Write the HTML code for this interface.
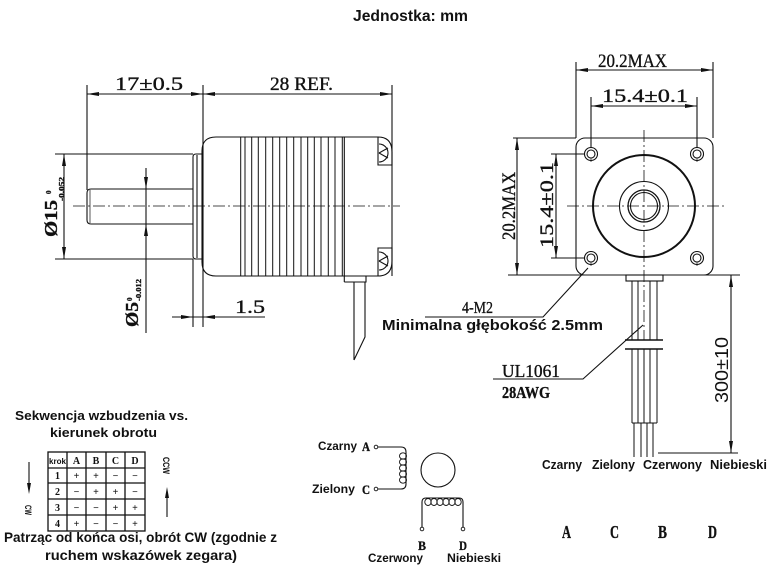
<!DOCTYPE html>
<html><head><meta charset="utf-8"><style>
html,body{margin:0;padding:0;background:#fff;}
svg{display:block;}
.s{font-family:"Liberation Sans",sans-serif;font-weight:bold;fill:#111;}
.d{font-family:"Liberation Serif",serif;fill:#111;stroke:#111;stroke-width:0.35;}
</style></head><body>
<svg width="769" height="568" viewBox="0 0 769 568" xmlns="http://www.w3.org/2000/svg">
<rect width="769" height="568" fill="#fff"/>
<text class="s" x="353" y="21" font-size="15.5" textLength="115" lengthAdjust="spacingAndGlyphs">Jednostka: mm</text>

<g stroke="#111" stroke-width="1.1" fill="none">
<!-- side view dims -->
<line x1="87" y1="85" x2="87" y2="190"/>
<line x1="203" y1="85" x2="203" y2="327"/>
<line x1="392" y1="85" x2="392" y2="276"/>
<line x1="87" y1="94" x2="392" y2="94"/>
<line x1="55" y1="154" x2="193" y2="154"/>
<line x1="55" y1="259" x2="193" y2="259"/>
<line x1="64" y1="154" x2="64" y2="259"/>
<line x1="146" y1="168" x2="146" y2="333"/>
<line x1="193" y1="259" x2="193" y2="327"/>
<line x1="172" y1="317" x2="265" y2="317"/>
<!-- body -->
<path d="M216 137 H378 M216 276 H378 M216 137 Q202 137 202 151 V262 Q202 276 216 276"/>
<path d="M378 137 Q392 137 392 152 V165 H378 Z"/>
<path d="M379 144 A9 9 0 0 1 379 162 M379 153 L388 148 M379 153 L388 158"/>
<path d="M378 248 H392 V261 Q392 276 378 276 Z"/>
<path d="M379 252 A9 9 0 0 1 379 270 M379 261 L388 256 M379 261 L388 266"/>
<g stroke-width="1">
<line x1="240.7" y1="137" x2="240.7" y2="276"/><line x1="245" y1="137" x2="245" y2="276"/>
<line x1="251.7" y1="137" x2="251.7" y2="276"/><line x1="258.3" y1="137" x2="258.3" y2="276"/>
<line x1="265.7" y1="137" x2="265.7" y2="276"/><line x1="272.7" y1="137" x2="272.7" y2="276"/>
<line x1="279.7" y1="137" x2="279.7" y2="276"/><line x1="286.7" y1="137" x2="286.7" y2="276"/>
<line x1="293.7" y1="137" x2="293.7" y2="276"/><line x1="301" y1="137" x2="301" y2="276"/>
<line x1="307.7" y1="137" x2="307.7" y2="276"/><line x1="314.3" y1="137" x2="314.3" y2="276"/>
<line x1="321" y1="137" x2="321" y2="276"/><line x1="328.3" y1="137" x2="328.3" y2="276"/>
<line x1="335" y1="137" x2="335" y2="276"/><line x1="342.3" y1="137" x2="342.3" y2="276"/>
</g>
<line x1="344.3" y1="137" x2="344.3" y2="282"/>
<path d="M344.3 282 H366 V276"/>
<path d="M354 282 V360 M365 282 V337 L354 360"/>
<!-- flange + shaft -->
<path d="M202 154 H196 Q193 154 193 157 V256 Q193 259 196 259 H202"/>
<line x1="197" y1="155" x2="197" y2="258"/>
<path d="M193 189 H91 Q87 189 87 193 V220 Q87 224 91 224 H193"/>
<line x1="90" y1="190" x2="90" y2="223" stroke-width="0.7"/>

<!-- front view -->
<rect x="576" y="138" width="137" height="137" rx="9"/>
<line x1="576" y1="62" x2="576" y2="138"/>
<line x1="713" y1="62" x2="713" y2="138"/>
<line x1="576" y1="70" x2="713" y2="70"/>
<line x1="591" y1="97" x2="591" y2="148"/>
<line x1="697" y1="97" x2="697" y2="148"/>
<line x1="591" y1="106" x2="697" y2="106"/>
<circle cx="591" cy="154" r="6.5"/><circle cx="591" cy="154" r="4"/>
<circle cx="697" cy="154" r="6.5"/><circle cx="697" cy="154" r="4"/>
<circle cx="591" cy="258" r="6.5"/><circle cx="591" cy="258" r="4"/>
<circle cx="697" cy="258" r="6.5"/><circle cx="697" cy="258" r="4"/>
<g stroke-width="0.7"><line x1="591" y1="158" x2="591" y2="162"/><line x1="697" y1="158" x2="697" y2="162"/><line x1="591" y1="262" x2="591" y2="266"/><line x1="697" y1="262" x2="697" y2="266"/></g>
<circle cx="644" cy="206" r="51" stroke-width="2"/>
<circle cx="644" cy="206" r="24.5"/>
<circle cx="644" cy="206" r="16" stroke-width="1.3"/>
<circle cx="644" cy="206" r="13.5"/>
<line x1="513" y1="138" x2="576" y2="138"/>
<line x1="508" y1="275" x2="740" y2="275"/>
<line x1="517" y1="138" x2="517" y2="275"/>
<line x1="551" y1="154" x2="585" y2="154"/>
<line x1="551" y1="258" x2="585" y2="258"/>
<line x1="556" y1="154" x2="556" y2="258"/>
<!-- cable front -->
<rect x="626" y="275" width="37" height="6"/>
<g stroke-width="1">
<path d="M632 281 V340 M638 281 V340 M650 281 V340 M657 281 V340"/>
<path d="M632 349 V423 M638 349 V423 M644 349 V423 M650 349 V423 M657 349 V423"/>
<line x1="632" y1="423" x2="657" y2="423"/>
<path d="M634 423 V457 M641 423 V457 M647 423 V457 M653 423 V457"/>
</g>
<line x1="625" y1="340" x2="663" y2="340" stroke-width="1.4"/>
<line x1="625" y1="349" x2="663" y2="349" stroke-width="1.4"/>
<line x1="731" y1="275" x2="731" y2="453"/>
<line x1="658" y1="453" x2="738" y2="453"/>
<!-- leaders -->
<path d="M588 268 L543 317 H425"/>
<path d="M643 325 L583 379 H493"/>

<!-- table -->
<g stroke-width="1.3">
<rect x="48" y="452" width="97" height="79"/>
<path d="M67 452 V531 M86 452 V531 M106 452 V531 M125 452 V531"/>
<path d="M48 468 H145 M48 483 H145 M48 499 H145 M48 515 H145"/>
</g>
<line x1="29" y1="462" x2="29" y2="485"/>
<line x1="167" y1="495" x2="167" y2="517"/>

<!-- wiring -->
<circle cx="376" cy="447" r="1.8" stroke-width="0.9"/>
<circle cx="376" cy="489" r="1.8" stroke-width="0.9"/>
<path d="M378 447 H401 Q406 447 406 452 V484 Q406 489 401 489 H378"/>
<g stroke-width="0.9">
<ellipse cx="403" cy="456" rx="3.5" ry="3.2"/><ellipse cx="403" cy="462" rx="3.5" ry="3.2"/>
<ellipse cx="403" cy="468" rx="3.5" ry="3.2"/><ellipse cx="403" cy="474" rx="3.5" ry="3.2"/>
<ellipse cx="403" cy="480" rx="3.5" ry="3.2"/>
<ellipse cx="428" cy="502" rx="3.2" ry="3.5"/><ellipse cx="434" cy="502" rx="3.2" ry="3.5"/>
<ellipse cx="440" cy="502" rx="3.2" ry="3.5"/><ellipse cx="446" cy="502" rx="3.2" ry="3.5"/>
<ellipse cx="452" cy="502" rx="3.2" ry="3.5"/><ellipse cx="458" cy="502" rx="3.2" ry="3.5"/>
</g>
<circle cx="438" cy="470" r="17"/>
<path d="M422 527 V502 Q422 498 426 498 H459 Q463 498 463 502 V527"/>
<circle cx="422" cy="529" r="1.8" stroke-width="0.9"/>
<circle cx="463" cy="529" r="1.8" stroke-width="0.9"/>
</g>

<!-- center lines -->
<g stroke="#111" stroke-width="0.8" stroke-dasharray="12 3 2 3" fill="none">
<line x1="73" y1="206" x2="400" y2="206"/>
<line x1="567" y1="206" x2="727" y2="206"/>
<line x1="644" y1="130" x2="644" y2="340"/>
</g>

<!-- arrowheads -->
<g fill="#111">
<polygon points="87,94 99,92 99,96"/><polygon points="203,94 191,92 191,96"/>
<polygon points="203,94 215,92 215,96"/><polygon points="392,94 380,92 380,96"/>
<polygon points="64,154 62,166 66,166"/><polygon points="64,259 62,247 66,247"/>
<polygon points="146,189 144,177 148,177"/><polygon points="146,224 144,236 148,236"/>
<polygon points="193,317 181,315 181,319"/><polygon points="203,317 215,315 215,319"/>
<polygon points="576,70 588,68 588,72"/><polygon points="713,70 701,68 701,72"/>
<polygon points="591,106 603,104 603,108"/><polygon points="697,106 685,104 685,108"/>
<polygon points="517,138 515,150 519,150"/><polygon points="517,275 515,263 519,263"/>
<polygon points="556,154 554,166 558,166"/><polygon points="556,258 554,246 558,246"/>
<polygon points="731,275 729,287 733,287"/><polygon points="731,453 729,441 733,441"/>
<polygon points="29,494 27,483 31,483"/><polygon points="167,487 165,498 169,498"/>
</g>

<!-- dimension texts -->
<text class="d" x="115" y="90" font-size="19" textLength="68" lengthAdjust="spacingAndGlyphs">17±0.5</text>
<text class="d" x="270" y="90" font-size="19" textLength="63" lengthAdjust="spacingAndGlyphs">28 REF.</text>
<text class="d" x="235" y="313" font-size="19" textLength="30" lengthAdjust="spacingAndGlyphs">1.5</text>
<text class="d" x="598" y="67" font-size="19" textLength="69" lengthAdjust="spacingAndGlyphs">20.2MAX</text>
<text class="d" x="602" y="102" font-size="19" textLength="86" lengthAdjust="spacingAndGlyphs">15.4±0.1</text>
<text class="d" x="462" y="313" font-size="17" textLength="31" lengthAdjust="spacingAndGlyphs">4-M2</text>
<text class="d" x="502" y="377" font-size="18" textLength="58" lengthAdjust="spacingAndGlyphs">UL1061</text>
<text class="d" x="502" y="398" font-size="17" font-weight="bold" textLength="48" lengthAdjust="spacingAndGlyphs">28AWG</text>
<text class="s" x="382" y="330" font-size="15" textLength="221" lengthAdjust="spacingAndGlyphs">Minimalna głębokość 2.5mm</text>

<g transform="translate(57,237) rotate(-90)">
<text class="d" x="0" y="0" font-size="18" font-weight="bold" textLength="37" lengthAdjust="spacingAndGlyphs">Ø15</text>
<text class="d" x="43" y="-6" font-size="7" font-weight="bold">0</text>
<text class="d" x="36" y="7" font-size="7" font-weight="bold" textLength="24" lengthAdjust="spacingAndGlyphs">-0.052</text>
</g>
<g transform="translate(138,327) rotate(-90)">
<text class="d" x="0" y="0" font-size="18" font-weight="bold" textLength="25" lengthAdjust="spacingAndGlyphs">Ø5</text>
<text class="d" x="26" y="-6" font-size="7" font-weight="bold">0</text>
<text class="d" x="26" y="3" font-size="7" font-weight="bold" textLength="22" lengthAdjust="spacingAndGlyphs">-0.012</text>
</g>
<text class="d" transform="translate(515,240) rotate(-90)" font-size="19" textLength="68" lengthAdjust="spacingAndGlyphs">20.2MAX</text>
<text class="d" transform="translate(553,248) rotate(-90)" font-size="19" textLength="86" lengthAdjust="spacingAndGlyphs">15.4±0.1</text>
<text transform="translate(728,403) rotate(-90)" font-family="Liberation Sans, sans-serif" font-size="18" fill="#111" textLength="66" lengthAdjust="spacingAndGlyphs">300±10</text>

<!-- wire labels -->
<text class="s" x="542" y="469" font-size="13" textLength="40" lengthAdjust="spacingAndGlyphs">Czarny</text>
<text class="s" x="592" y="469" font-size="13" textLength="43" lengthAdjust="spacingAndGlyphs">Zielony</text>
<text class="s" x="643" y="469" font-size="13" textLength="59" lengthAdjust="spacingAndGlyphs">Czerwony</text>
<text class="s" x="710" y="469" font-size="13" textLength="57" lengthAdjust="spacingAndGlyphs">Niebieski</text>

<g class="d" font-size="18" font-weight="bold">
<text x="562" y="538" textLength="9" lengthAdjust="spacingAndGlyphs">A</text>
<text x="610" y="538" textLength="9" lengthAdjust="spacingAndGlyphs">C</text>
<text x="658" y="538" textLength="9" lengthAdjust="spacingAndGlyphs">B</text>
<text x="708" y="538" textLength="9" lengthAdjust="spacingAndGlyphs">D</text>
</g>

<!-- sequence -->
<text class="s" x="15" y="420" font-size="13" textLength="173" lengthAdjust="spacingAndGlyphs">Sekwencja wzbudzenia vs.</text>
<text class="s" x="50" y="437" font-size="13" textLength="107" lengthAdjust="spacingAndGlyphs">kierunek obrotu</text>
<text class="s" x="4" y="542" font-size="14" textLength="273" lengthAdjust="spacingAndGlyphs">Patrząc od końca osi, obrót CW (zgodnie z</text>
<text class="s" x="45" y="560" font-size="14" textLength="192" lengthAdjust="spacingAndGlyphs">ruchem wskazówek zegara)</text>

<g font-family="Liberation Serif, serif" font-weight="bold" font-size="10" fill="#111" text-anchor="middle">
<text x="57.5" y="464" font-family="Liberation Sans, sans-serif" font-size="8">krok</text>
<text x="76.5" y="464">A</text><text x="96" y="464">B</text><text x="115.5" y="464">C</text><text x="135" y="464">D</text>
<text x="57.5" y="479">1</text><text x="76.5" y="479">+</text><text x="96" y="479">+</text><text x="115.5" y="479">−</text><text x="135" y="479">−</text>
<text x="57.5" y="495">2</text><text x="76.5" y="495">−</text><text x="96" y="495">+</text><text x="115.5" y="495">+</text><text x="135" y="495">−</text>
<text x="57.5" y="511">3</text><text x="76.5" y="511">−</text><text x="96" y="511">−</text><text x="115.5" y="511">+</text><text x="135" y="511">+</text>
<text x="57.5" y="527">4</text><text x="76.5" y="527">+</text><text x="96" y="527">−</text><text x="115.5" y="527">−</text><text x="135" y="527">+</text>
</g>
<text transform="translate(25,505) rotate(90)" font-family="Liberation Sans, sans-serif" font-weight="bold" font-size="9" fill="#111" textLength="10" lengthAdjust="spacingAndGlyphs">CW</text>
<text transform="translate(163,457) rotate(90)" font-family="Liberation Sans, sans-serif" font-weight="bold" font-size="9" fill="#111" textLength="17" lengthAdjust="spacingAndGlyphs">CCW</text>

<!-- wiring labels -->
<text class="s" x="318" y="450" font-size="12" textLength="39" lengthAdjust="spacingAndGlyphs">Czarny</text>
<text class="d" x="362" y="451" font-size="13" font-weight="bold" textLength="8" lengthAdjust="spacingAndGlyphs">A</text>
<text class="s" x="312" y="493" font-size="12" textLength="43" lengthAdjust="spacingAndGlyphs">Zielony</text>
<text class="d" x="362" y="494" font-size="13" font-weight="bold" textLength="8" lengthAdjust="spacingAndGlyphs">C</text>
<text class="d" x="418" y="550" font-size="13" font-weight="bold" textLength="8" lengthAdjust="spacingAndGlyphs">B</text>
<text class="d" x="459" y="550" font-size="13" font-weight="bold" textLength="8" lengthAdjust="spacingAndGlyphs">D</text>
<text class="s" x="368" y="562" font-size="12" textLength="55" lengthAdjust="spacingAndGlyphs">Czerwony</text>
<text class="s" x="447" y="562" font-size="12" textLength="54" lengthAdjust="spacingAndGlyphs">Niebieski</text>
</svg>
</body></html>
